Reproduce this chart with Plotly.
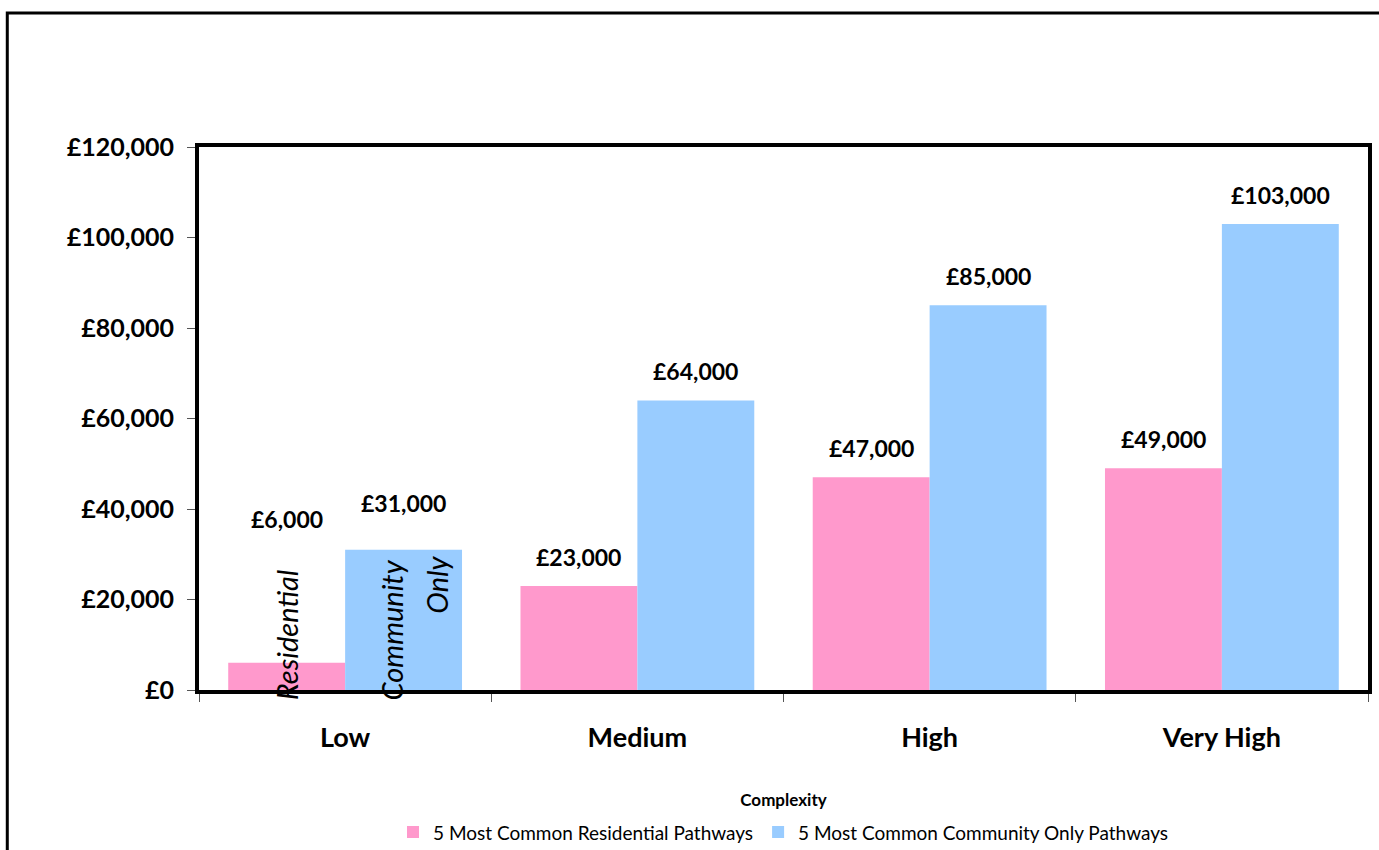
import plotly.graph_objects as go

categories = ["Low", "Medium", "High", "Very High"]
residential = [6000, 23000, 47000, 49000]
community = [31000, 64000, 85000, 103000]
series_names = ["5 Most Common Residential Pathways", "5 Most Common Community Only Pathways"]
x_title = "Complexity"

PINK = "#FF99CC"
BLUE = "#99CCFF"
FONT = "Lato"

fig = go.Figure()
fig.add_trace(go.Bar(x=categories, y=residential, name=series_names[0],
                     marker=dict(color=PINK, line=dict(width=0))))
fig.add_trace(go.Bar(x=categories, y=community, name=series_names[1],
                     marker=dict(color=BLUE, line=dict(width=0))))

# value labels
res_shift = [128, 13, 13, 13]
com_shift = [31, 13, 13, 13]
lab_font = dict(family=FONT, size=23, color="black", weight="bold")
for i, cat in enumerate(categories):
    fig.add_annotation(x=i - 0.2, y=residential[i], text="£{:,}".format(residential[i]),
                       showarrow=False, yanchor="bottom", yshift=res_shift[i], font=lab_font)
    fig.add_annotation(x=i + 0.2, y=community[i], text="£{:,}".format(community[i]),
                       showarrow=False, yanchor="bottom", yshift=com_shift[i], font=lab_font)

# rotated in-bar series labels for the first category
ital = dict(family=FONT, size=29, color="black", style="italic")
fig.add_annotation(x=-0.2, y=0, text="Residential", textangle=-90, showarrow=False,
                   yanchor="bottom", yshift=-12, font=ital)
fig.add_annotation(x=0.16, y=0, text="Community", textangle=-90, showarrow=False,
                   yanchor="bottom", yshift=-12, font=ital)
fig.add_annotation(x=0.31, y=0, text="Only", textangle=-90, showarrow=False,
                   yanchor="bottom", yshift=74, font=ital)

# outer chart frame
fig.add_shape(type="rect", xref="paper", yref="paper", x0=-0.164, x1=1.2, y0=-0.6, y1=1.247,
              line=dict(color="black", width=3), fillcolor="rgba(0,0,0,0)", layer="above")

fig.update_layout(
    width=1379, height=850,
    margin=dict(l=199, r=11, t=147, b=160, autoexpand=False),
    paper_bgcolor="white", plot_bgcolor="white",
    barmode="group", bargap=0.2, bargroupgap=0,
    font=dict(family=FONT, color="black"),
    showlegend=True,
    legend=dict(orientation="h", x=0.5, xanchor="center", y=-0.262, yanchor="middle",
                font=dict(family=FONT, size=19, color="black"), itemsizing="constant",
                itemwidth=30),
    xaxis=dict(
        automargin=False,
        showline=True, linecolor="black", linewidth=4, mirror=True,
        ticks="outside", tickson="boundaries", ticklen=8, tickcolor="#555", tickwidth=1,
        tickfont=dict(family=FONT, size=27, weight="bold"),
        ticklabelstandoff=21,
        title=dict(text=x_title, font=dict(family=FONT, size=17, weight="bold"), standoff=43),
        showgrid=False,
    ),
    yaxis=dict(
        automargin=False,
        range=[0, 120000], dtick=20000, tickprefix="£", tickformat=",",
        showline=True, linecolor="black", linewidth=4, mirror=True,
        ticks="outside", ticklen=8, tickcolor="#555", tickwidth=1,
        tickfont=dict(family=FONT, size=25, weight="bold"),
        ticklabelstandoff=8,
        showgrid=False, zeroline=False,
    ),
)

fig.write_html("out.html")
